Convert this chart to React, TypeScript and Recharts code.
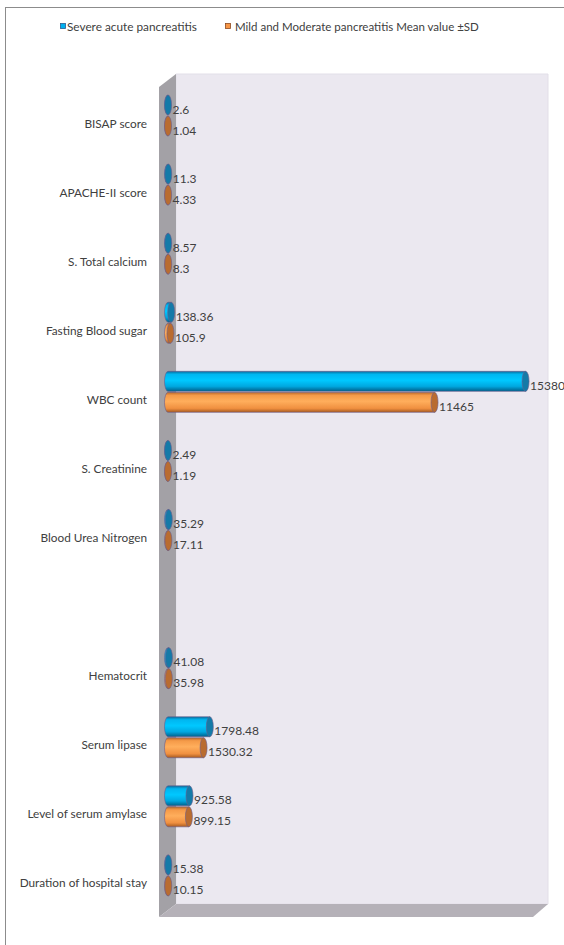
import { Bar, BarChart, LabelList, XAxis, YAxis } from "recharts";

const categories = [
  "BISAP score",
  "APACHE-II score",
  "S. Total calcium",
  "Fasting Blood sugar",
  "WBC count",
  "S. Creatinine",
  "Blood Urea Nitrogen",
  "",
  "Hematocrit",
  "Serum lipase",
  "Level of serum amylase",
  "Duration of hospital stay",
];
const severe = [2.6, 11.3, 8.57, 138.36, 15380, 2.49, 35.29, null, 41.08, 1798.48, 925.58, 15.38];
const mild = [1.04, 4.33, 8.3, 105.9, 11465, 1.19, 17.11, null, 35.98, 1530.32, 899.15, 10.15];
const seriesNames = ["Severe acute pancreatitis", "Mild and Moderate pancreatitis Mean value ±SD"];

const data = categories.map((name, i) => ({ name, severe: severe[i], mild: mild[i] }));

const TEXT = "#404040";
const OUTLINE = "#6a5c8c";
const RX = 3.5;

// horizontal cylinder: body with rounded left end + elliptical cap on the right
function makeCylinder(grad: string, cap: string) {
  return (props: any) => {
    const { x, y, width, height } = props;
    if (x == null || y == null || !height) return null;
    const w = Math.max(width || 0, 0);
    const ry = height / 2;
    const d = `M${x},${y} L${x + w},${y} L${x + w},${y + height} L${x},${y + height} A${RX},${ry} 0 0 1 ${x},${y} Z`;
    return (
      <g>
        <path d={d} fill={`url(#${grad})`} stroke={OUTLINE} strokeWidth={0.6} />
        <ellipse cx={x + w} cy={y + ry} rx={RX} ry={ry} fill={cap} stroke={OUTLINE} strokeWidth={0.6} />
      </g>
    );
  };
}

const SevereBar = makeCylinder("gradSevere", "#147aa8");
const MildBar = makeCylinder("gradMild", "#b96c30");

function ValueLabel(props: any) {
  const { x, y, width, height, value } = props;
  if (value == null) return null;
  return (
    <text x={x + width + RX + 1} y={y + height / 2 + 4} dominantBaseline="central" fontSize={12} fill={TEXT}>
      {value}
    </text>
  );
}

function CategoryTick(props: any) {
  const { y, payload } = props;
  return (
    <text x={147} y={y + 7.5} textAnchor="end" dominantBaseline="central" fontSize={11.8} fill={TEXT}>
      {payload.value}
    </text>
  );
}

function Backdrop() {
  return (
    <svg width={564} height={945} style={{ position: "absolute", left: 0, top: 0 }}>
      <defs>
        <linearGradient id="gradSevere" x1="0" y1="0" x2="0" y2="1">
          <stop offset="0" stopColor="#0b6c9c" />
          <stop offset="0.15" stopColor="#00b6f0" />
          <stop offset="0.45" stopColor="#00c8ff" />
          <stop offset="0.75" stopColor="#00a8e0" />
          <stop offset="1" stopColor="#005f8a" />
        </linearGradient>
        <linearGradient id="gradMild" x1="0" y1="0" x2="0" y2="1">
          <stop offset="0" stopColor="#b8692a" />
          <stop offset="0.15" stopColor="#f59a48" />
          <stop offset="0.45" stopColor="#ffae5c" />
          <stop offset="0.8" stopColor="#f09040" />
          <stop offset="1" stopColor="#a65a20" />
        </linearGradient>
      </defs>
      <rect x={5.5} y={7.5} width={600} height={960} fill="#fff" stroke="#8c8c8c" strokeWidth={1} />
      {/* 3D walls */}
      <polygon points="176,74 548,74 548,904 176,904" fill="#ebe8f0" stroke="#e2dfe8" />
      <polygon points="159,87 176,74 176,904 159,917" fill="#a3a1a6" />
      <polygon points="159,917 176,904 548,904 533,917" fill="#b5b1b8" />
      {/* legend */}
      <rect x={60.5} y={23.5} width={5} height={5} fill="#00b0f0" stroke="#2a5d8f" strokeWidth={0.8} />
      <text x={67} y={26.5} dominantBaseline="central" fontSize={11.8} fill={TEXT}>
        {seriesNames[0]}
      </text>
      <rect x={225.5} y={23.5} width={5} height={5} fill="#f79646" stroke="#8c4a20" strokeWidth={0.8} />
      <text x={235} y={26.5} dominantBaseline="central" fontSize={11.5} fill={TEXT}>
        {seriesNames[1]}
      </text>
    </svg>
  );
}

export default function App() {
  return (
    <div
      style={{
        position: "absolute",
        left: 0,
        top: 0,
        width: 564,
        height: 945,
        overflow: "hidden",
        background: "#fff",
        fontFamily: "Lato, 'Open Sans', sans-serif",
      }}
    >
      <Backdrop />
      <div style={{ position: "absolute", left: 0, top: 0 }}>
        <BarChart
          width={564}
          height={945}
          data={data}
          layout="vertical"
          margin={{ top: 81, right: 24, bottom: 35, left: 0 }}
          barSize={20}
          barGap={1}
        >
          <XAxis type="number" domain={[0, 16000]} hide />
          <YAxis
            type="category"
            dataKey="name"
            width={168}
            axisLine={false}
            tickLine={false}
            interval={0}
            tick={CategoryTick}
          />
          <Bar dataKey="severe" name={seriesNames[0]} shape={SevereBar} isAnimationActive={false}>
            <LabelList dataKey="severe" content={ValueLabel} />
          </Bar>
          <Bar dataKey="mild" name={seriesNames[1]} shape={MildBar} isAnimationActive={false}>
            <LabelList dataKey="mild" content={ValueLabel} />
          </Bar>
        </BarChart>
      </div>
    </div>
  );
}
